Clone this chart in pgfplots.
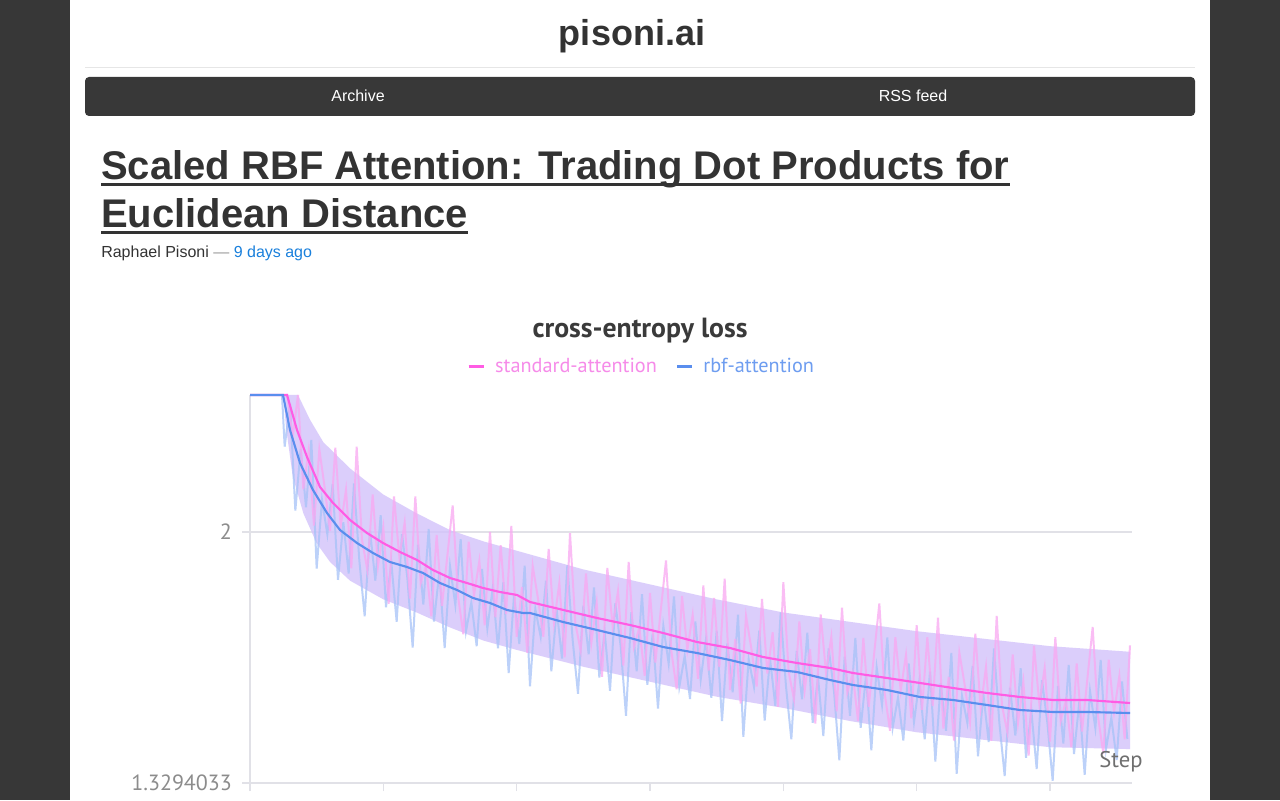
\documentclass[border=0pt]{standalone}
\usepackage{fontspec}
\setmainfont{Liberation Sans}
\newfontfamily\chartfont{PT Sans}
\usepackage{pgfplots}
\pgfplotsset{compat=1.18}
\definecolor{bgdark}{HTML}{373737}
\definecolor{txt}{HTML}{333333}
\definecolor{navbg}{HTML}{383838}
\definecolor{rulec}{HTML}{E6E6E6}
\definecolor{link}{HTML}{1A80DC}
\definecolor{pinkline}{HTML}{FF5CE4}
\definecolor{blueline}{HTML}{5A8EEE}
\definecolor{pinkraw}{HTML}{F9A8F1}
\definecolor{blueraw}{HTML}{A6C2F8}
\definecolor{bandc}{HTML}{D3C2FB}
\definecolor{legpink}{HTML}{F68BE9}
\definecolor{legblue}{HTML}{6E9DF0}
\definecolor{axgray}{HTML}{E1E1E7}
\definecolor{tickgray}{HTML}{8C8C8C}
\definecolor{titlegray}{HTML}{3A3A3A}
\definecolor{steptxt}{HTML}{6F6F6F}
\begin{document}
\begin{tikzpicture}[x=0.75pt,y=0.75pt]
\path[use as bounding box] (0,0) rectangle (1280,800);
\fill[bgdark] (0,0) rectangle (1280,800);
\fill[white] (70,0) rectangle (1210,800);
\node[anchor=base, inner sep=0, text=txt, font=\bfseries\fontsize{27pt}{32pt}\selectfont] at (632,754) {pisoni.ai};
\draw[rulec, line width=0.75pt] (85,732) -- (1195,732);
\fill[navbg, rounded corners=3pt] (85,684) rectangle (1195,723);
\node[anchor=base, inner sep=0, text=white, font=\fontsize{12pt}{14pt}\selectfont] at (358,698) {Archive};
\node[anchor=base, inner sep=0, text=white, font=\fontsize{12pt}{14pt}\selectfont] at (913,698) {RSS feed};
\node[anchor=base west, inner sep=0, text=txt, font=\bfseries\fontsize{30pt}{36pt}\selectfont] (t1) at (101,620) {Scaled RBF Attention: Trading Dot Products for};
\draw[txt, line width=2.2pt] ([yshift=-3.6pt]t1.base west) -- ([yshift=-3.6pt]t1.base east);
\node[anchor=base west, inner sep=0, text=txt, font=\bfseries\fontsize{30pt}{36pt}\selectfont] (t2) at (101,572) {Euclidean Distance};
\draw[txt, line width=2.2pt] ([yshift=-3.6pt]t2.base west) -- ([yshift=-3.6pt]t2.base east);
\node[anchor=base west, inner sep=0, font=\fontsize{12pt}{14pt}\selectfont] at (101,542) {\textcolor{txt}{Raphael Pisoni} \textcolor{gray!80}{—} \textcolor{link}{9 days ago}};
\node[anchor=base, inner sep=0, text=titlegray, font=\chartfont\bfseries\fontsize{20.8pt}{24pt}\selectfont] at (640,462) {cross-entropy loss};
\begin{axis}[
  at={(187.5pt,12.75pt)}, anchor=south west,
  scale only axis, width=661.5pt, height=291pt,
  xmin=0, xmax=6.615, ymin=1.3294033, ymax=2.366,
  axis lines*=left,
  axis line style={draw=axgray, line width=0.8pt},
  tick align=outside, major tick length=6pt,
  tick style={draw=axgray, line width=0.8pt},
  xtick={0,1,2,3,4,5,6}, xticklabels={},
  ytick={1.3294033,2}, yticklabels={1.3294033,2},
  yticklabel style={font=\chartfont\fontsize{16.5pt}{19pt}\selectfont, text=tickgray, xshift=-4pt},
  ymajorgrids=true, grid style={draw=axgray, line width=0.8pt},
  clip=false, no markers,
  xlabel={Step},
  xlabel style={at={(axis description cs:0.9875,0.054)}, anchor=center, font=\chartfont\fontsize{17pt}{20pt}\selectfont, text=steptxt},
  legend columns=2,
  legend style={at={(0.4444,1.0747)}, anchor=center, draw=none, fill=none,
    font=\chartfont\fontsize{15.2pt}{18pt}\selectfont,
    /tikz/every even column/.append style={column sep=12pt}},
  legend image code/.code={\draw[#1, line width=2.25pt] (0pt,0pt) -- (11.25pt,0pt); \path (17pt,0pt);},
]
% core band
\addplot[fill=bandc, draw=none, fill opacity=0.8, forget plot] coordinates {
(0.25,2.366)(0.36,2.366)(0.45,2.30)(0.55,2.24)(0.75,2.17)(1.0,2.10)(1.25,2.05)(1.5,2.005)(1.75,1.975)(2.0,1.95)(2.5,1.90)(3.0,1.86)(3.5,1.82)(4.0,1.785)(4.5,1.76)(5.0,1.735)(5.5,1.715)(6.0,1.695)(6.6,1.68)
(6.6,1.42)(6.0,1.425)(5.5,1.445)(5.0,1.465)(4.5,1.495)(4.0,1.53)(3.5,1.56)(3.0,1.60)(2.5,1.64)(2.0,1.685)(1.75,1.71)(1.5,1.745)(1.25,1.785)(1.0,1.82)(0.75,1.87)(0.6,1.92)(0.5,1.97)(0.4,2.05)(0.32,2.15)(0.27,2.28)(0.25,2.366)};
% raw rbf
\addplot[blueraw, line width=1.5pt, opacity=0.75, forget plot] coordinates {
(0.24,2.366)(0.26,2.228)(0.30,2.343)(0.34,2.057)(0.38,2.222)(0.42,2.066)(0.46,2.246)(0.50,1.902)(0.54,2.086)(0.58,1.994)(0.62,2.128)(0.66,1.872)(0.70,2.026)(0.74,1.889)(0.78,2.130)(0.82,1.924)(0.86,1.775)(0.90,2.004)(0.94,1.870)(0.98,2.045)(1.02,1.799)(1.06,1.918)(1.10,1.760)(1.14,1.994)(1.18,1.878)(1.22,1.691)(1.26,1.966)(1.30,1.806)(1.34,2.008)(1.38,1.761)(1.42,1.893)(1.46,1.690)(1.50,1.909)(1.54,1.805)(1.58,1.981)(1.62,1.735)(1.66,1.812)(1.70,1.695)(1.74,1.901)(1.78,1.742)(1.82,1.849)(1.86,1.689)(1.90,1.866)(1.94,1.623)(1.98,1.830)(2.02,1.701)(2.06,1.910)(2.10,1.588)(2.14,1.794)(2.18,1.720)(2.22,1.870)(2.26,1.628)(2.30,1.792)(2.34,1.662)(2.38,1.911)(2.42,1.711)(2.46,1.568)(2.50,1.803)(2.54,1.673)(2.58,1.852)(2.62,1.611)(2.66,1.733)(2.70,1.576)(2.74,1.810)(2.78,1.695)(2.82,1.509)(2.86,1.786)(2.90,1.628)(2.94,1.834)(2.98,1.592)(3.02,1.728)(3.06,1.528)(3.10,1.749)(3.14,1.648)(3.18,1.828)(3.22,1.587)(3.26,1.669)(3.30,1.554)(3.34,1.761)(3.38,1.605)(3.42,1.714)(3.46,1.557)(3.50,1.736)(3.54,1.495)(3.58,1.702)(3.62,1.572)(3.66,1.779)(3.70,1.453)(3.74,1.660)(3.78,1.586)(3.82,1.737)(3.86,1.496)(3.90,1.662)(3.94,1.535)(3.98,1.785)(4.02,1.587)(4.06,1.446)(4.10,1.682)(4.14,1.553)(4.18,1.731)(4.22,1.490)(4.26,1.612)(4.30,1.455)(4.34,1.689)(4.38,1.575)(4.42,1.390)(4.46,1.667)(4.50,1.509)(4.54,1.717)(4.58,1.477)(4.62,1.615)(4.66,1.417)(4.70,1.638)(4.74,1.538)(4.78,1.718)(4.82,1.477)(4.86,1.558)(4.90,1.443)(4.94,1.649)(4.98,1.492)(5.02,1.601)(5.06,1.446)(5.10,1.627)(5.14,1.387)(5.18,1.596)(5.22,1.469)(5.26,1.677)(5.30,1.354)(5.34,1.562)(5.38,1.490)(5.42,1.642)(5.46,1.401)(5.50,1.567)(5.54,1.439)(5.58,1.689)(5.62,1.491)(5.66,1.348)(5.70,1.584)(5.74,1.456)(5.78,1.636)(5.82,1.397)(5.86,1.522)(5.90,1.367)(5.94,1.604)(5.98,1.491)(6.02,1.335)(6.06,1.589)(6.10,1.435)(6.14,1.645)(6.18,1.407)(6.22,1.547)(6.26,1.351)(6.30,1.575)(6.34,1.476)(6.38,1.658)(6.42,1.420)(6.46,1.504)(6.50,1.391)(6.54,1.601)(6.58,1.447)};
% raw standard
\addplot[pinkraw, line width=1.5pt, opacity=0.75, forget plot] coordinates {
(0.27,2.366)(0.28,2.366)(0.32,2.254)(0.36,2.366)(0.40,2.114)(0.44,2.218)(0.48,2.017)(0.52,2.221)(0.56,2.119)(0.60,2.003)(0.64,2.225)(0.68,2.015)(0.72,2.113)(0.76,1.903)(0.80,2.228)(0.84,1.979)(0.88,1.899)(0.92,2.100)(0.96,1.909)(1.00,2.012)(1.04,1.808)(1.08,2.095)(1.12,1.933)(1.16,2.025)(1.20,1.822)(1.24,2.095)(1.28,1.863)(1.32,1.910)(1.36,1.775)(1.40,1.992)(1.44,1.803)(1.48,1.936)(1.52,2.071)(1.56,1.829)(1.60,1.727)(1.64,1.974)(1.68,1.830)(1.72,1.923)(1.76,1.751)(1.80,2.000)(1.84,1.772)(1.88,1.965)(1.92,1.781)(1.96,2.016)(2.00,1.720)(2.04,1.853)(2.08,1.677)(2.12,1.910)(2.16,1.822)(2.20,1.720)(2.24,1.955)(2.28,1.756)(2.32,1.864)(2.36,1.665)(2.40,1.997)(2.44,1.756)(2.48,1.683)(2.52,1.889)(2.56,1.704)(2.60,1.812)(2.64,1.613)(2.68,1.904)(2.72,1.747)(2.76,1.842)(2.80,1.643)(2.84,1.920)(2.88,1.693)(2.92,1.745)(2.96,1.616)(3.00,1.837)(3.04,1.651)(3.08,1.788)(3.12,1.924)(3.16,1.682)(3.20,1.580)(3.24,1.829)(3.28,1.685)(3.32,1.779)(3.36,1.608)(3.40,1.857)(3.44,1.630)(3.48,1.824)(3.52,1.639)(3.56,1.875)(3.60,1.578)(3.64,1.714)(3.68,1.542)(3.72,1.776)(3.76,1.689)(3.80,1.587)(3.84,1.821)(3.88,1.622)(3.92,1.732)(3.96,1.533)(4.00,1.866)(4.04,1.626)(4.08,1.553)(4.12,1.761)(4.16,1.577)(4.20,1.687)(4.24,1.488)(4.28,1.780)(4.32,1.624)(4.36,1.720)(4.40,1.521)(4.44,1.798)(4.48,1.571)(4.52,1.623)(4.56,1.495)(4.60,1.717)(4.64,1.533)(4.68,1.671)(4.72,1.809)(4.76,1.569)(4.80,1.469)(4.84,1.719)(4.88,1.576)(4.92,1.672)(4.96,1.502)(5.00,1.751)(5.04,1.525)(5.08,1.719)(5.12,1.535)(5.16,1.771)(5.20,1.475)(5.24,1.613)(5.28,1.443)(5.32,1.678)(5.36,1.592)(5.40,1.492)(5.44,1.728)(5.48,1.530)(5.52,1.640)(5.56,1.442)(5.60,1.776)(5.64,1.536)(5.68,1.465)(5.72,1.673)(5.76,1.490)(5.80,1.600)(5.84,1.403)(5.88,1.696)(5.92,1.540)(5.96,1.637)(6.00,1.440)(6.04,1.719)(6.08,1.495)(6.12,1.551)(6.16,1.425)(6.20,1.649)(6.24,1.467)(6.28,1.607)(6.32,1.746)(6.36,1.507)(6.40,1.408)(6.44,1.659)(6.48,1.518)(6.52,1.615)(6.56,1.446)(6.60,1.697)};
% smoothed standard
\addplot[pinkline, line width=1.6pt] coordinates {
(0,2.366)(0.2775,2.366)(0.3525,2.2725)(0.4275,2.2004)(0.525,2.1202)(0.6225,2.0775)(0.75,2.0321)(0.8775,1.9973)(0.9975,1.9706)(1.125,1.9466)(1.2525,1.9252)(1.3725,1.8985)(1.5,1.8771)(1.6275,1.8637)(1.7475,1.8504)(1.875,1.8397)(2.0025,1.8317)(2.1,1.813)(2.3475,1.7919)(2.6025,1.7702)(2.85,1.7515)(3.0975,1.7302)(3.3525,1.7061)(3.6,1.6901)(3.8475,1.666)(4.1025,1.65)(4.35,1.6367)(4.5225,1.6233)(4.7775,1.6099)(5.025,1.5966)(5.2725,1.5832)(5.5275,1.5699)(5.775,1.5592)(6.0225,1.5512)(6.2775,1.5512)(6.6,1.5431)};
\addlegendentry{\textcolor{legpink}{standard-attention}}
% smoothed rbf
\addplot[blueline, line width=1.6pt] coordinates {
(0,2.366)(0.2475,2.366)(0.3,2.2725)(0.375,2.1843)(0.4725,2.1122)(0.5775,2.0508)(0.675,2.0053)(0.8025,1.9706)(0.9225,1.9439)(1.05,1.9198)(1.1775,1.9065)(1.2975,1.8905)(1.425,1.8637)(1.5525,1.845)(1.6725,1.8237)(1.8,1.8103)(1.9275,1.7916)(2.0475,1.7836)(2.1,1.7836)(2.3475,1.7596)(2.6025,1.7382)(2.85,1.7168)(3.0975,1.6928)(3.3525,1.6767)(3.6,1.658)(3.8475,1.6367)(4.1025,1.626)(4.35,1.6046)(4.5225,1.5912)(4.7775,1.5779)(5.025,1.5592)(5.2725,1.5512)(5.5275,1.5378)(5.775,1.5244)(6.0225,1.5191)(6.2775,1.5191)(6.6,1.5164)};
\addlegendentry{\textcolor{legblue}{rbf-attention}}
\end{axis}
\end{tikzpicture}
\end{document}
